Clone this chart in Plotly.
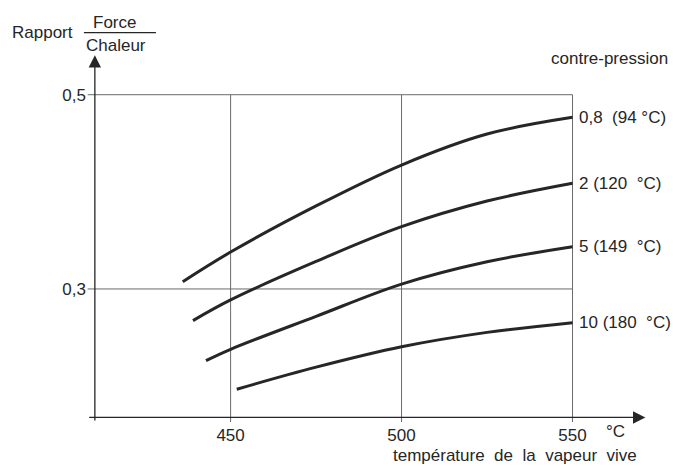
import plotly.graph_objects as go

W, H = 673, 466

# ---- data ----
curve_labels = ["0,8  (94 °C)", "2 (120  °C)", "5 (149  °C)", "10 (180  °C)"]

t_08 = [436.0, 450, 475, 500, 525, 550]
r_08 = [0.3075, 0.338, 0.3855, 0.4276, 0.4595, 0.4767]
t_2 = [439.0, 450, 475, 500, 525, 550]
r_2 = [0.2674, 0.2887, 0.3283, 0.3641, 0.3905, 0.4088]
t_5 = [442.8, 450, 475, 500, 525, 550]
r_5 = [0.2262, 0.2379, 0.2718, 0.305, 0.328, 0.3435]
t_10 = [451.8, 475, 500, 525, 550]
r_10 = [0.1968, 0.2195, 0.2405, 0.2553, 0.2653]

x_ticks = [450, 500, 550]
x_tick_text = ["450", "500", "550"]
y_ticks = [0.3, 0.5]
y_tick_text = ["0,3", "0,5"]

X_ORIGIN = 410.3      # where the vertical axis sits
Y_ORIGIN = 0.1677     # where the horizontal axis sits
X_RANGE = [408.0, 575.0]
Y_RANGE = [0.162, 0.545]
X_ARROW_END = 571.3
Y_ARROW_END = 0.5407

# ---- layout geometry ----
ML, MR, MT, MB = 87.1, 15.4, 50.9, 43.0
PW, PH = W - ML - MR, H - MT - MB


def px(x):
    return (x - ML) / PW


def py(y):
    return (H - MB - y) / PH


INK = "#262626"
GRID = "#6a6a6a"
FONT = dict(family="Liberation Sans, Arial, sans-serif", size=17, color=INK)

fig = go.Figure()

# grid (box-limited, from tick arrays)
for xv in x_ticks:
    fig.add_trace(go.Scatter(x=[xv, xv], y=[Y_RANGE[0] + 0.001, max(y_ticks)],
                             mode="lines", line=dict(color=GRID, width=1),
                             hoverinfo="skip", showlegend=False))
for yv in y_ticks:
    fig.add_trace(go.Scatter(x=[X_RANGE[0] + 0.2, max(x_ticks)], y=[yv, yv],
                             mode="lines", line=dict(color=GRID, width=1),
                             hoverinfo="skip", showlegend=False))

series = [(t_08, r_08), (t_2, r_2), (t_5, r_5), (t_10, r_10)]
for (tx, ry), lab in zip(series, curve_labels):
    fig.add_trace(go.Scatter(x=tx, y=ry, mode="lines",
                             line=dict(color=INK, width=3, shape="spline", smoothing=1.0),
                             showlegend=False, name=lab))
    fig.add_annotation(x=tx[-1], y=ry[-1], xref="x", yref="y", text=lab,
                       showarrow=False, xanchor="left", yanchor="middle",
                       xshift=4, font=FONT)

# axes with arrows
fig.add_annotation(x=X_ARROW_END, y=Y_ORIGIN, ax=X_RANGE[0] + 0.2, ay=Y_ORIGIN,
                   xref="x", yref="y", axref="x", ayref="y", text="",
                   showarrow=True, arrowhead=2, arrowsize=1.9, arrowwidth=1.3,
                   arrowcolor=INK)
fig.add_annotation(x=X_ORIGIN, y=Y_ARROW_END, ax=X_ORIGIN, ay=Y_RANGE[0] + 0.001,
                   xref="x", yref="y", axref="x", ayref="y", text="",
                   showarrow=True, arrowhead=2, arrowsize=1.9, arrowwidth=1.3,
                   arrowcolor=INK)

# texts
texts = [
    ("Rapport", 43, 32, "center"),
    ("Force", 115, 22, "center"),
    ("Chaleur", 116, 45, "center"),
    ("contre-pression", 609, 58, "center"),
    ("°C", 615, 432, "center"),
    ("température  de  la  vapeur  vive", 515, 456, "center"),
]
for t, x, y, anc in texts:
    fig.add_annotation(x=px(x), y=py(y), xref="paper", yref="paper", text=t,
                       showarrow=False, xanchor=anc, yanchor="middle", font=FONT)

fig.add_shape(type="line", xref="paper", yref="paper",
              x0=px(84), x1=px(156), y0=py(32.5), y1=py(32.5),
              line=dict(color=INK, width=1.3))

fig.update_layout(
    width=W, height=H,
    margin=dict(l=ML, r=MR, t=MT, b=MB, autoexpand=False),
    paper_bgcolor="white", plot_bgcolor="white",
    font=FONT,
    xaxis=dict(range=X_RANGE, showgrid=False, zeroline=False, showline=False,
               tickmode="array", tickvals=x_ticks, ticktext=x_tick_text,
               ticks="", tickfont=FONT, fixedrange=True),
    yaxis=dict(range=Y_RANGE, showgrid=False, zeroline=False, showline=False,
               tickmode="array", tickvals=y_ticks, ticktext=y_tick_text,
               ticks="", tickfont=FONT, fixedrange=True),
)

fig.write_html("out.html", config={"displayModeBar": False},
               post_script="document.body.style.margin='0px';document.body.style.overflow='hidden';")
